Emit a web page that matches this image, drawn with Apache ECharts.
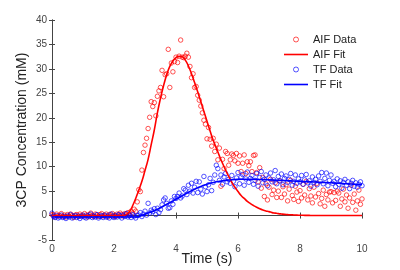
<!DOCTYPE html>
<html>
<head>
<meta charset="utf-8">
<script src="https://cdn.jsdelivr.net/npm/echarts@6/dist/echarts.min.js"></script>
<style>
  html, body { margin: 0; padding: 0; background: #fff; }
  #main { width: 400px; height: 270px; }
</style>
</head>
<body>
<div id="main"></div>
<script>
// sample step of the measured data (s) and of the fitted curves (s)
const dataStep = 0.05;
const fitStep = 0.1;

// AIF measured samples, one row = 0.5 s
const aifData = [
  0.2, 0.1, -0.3, 0.3, -0.1, 0.0, 0.4, -0.2, 0.1, -0.3,
  0.2, -0.1, 0.3, 0.0, -0.4, 0.1, 0.2, -0.2, 0.3, 0.0,
  -0.1, 0.4, 0.1, -0.3, 0.2, 0.5, 0.0, -0.2, 0.3, 0.1,
  -0.2, 0.2, 0.4, -0.1, 0.0, 0.3, -0.3, 0.2, 0.1, 0.4,
  0.0, -0.2, 0.3, 0.1, 0.5, 0.2, -0.1, 0.4, 0.3, 0.6,
  0.2, 0.9, 0.5, 1.3, 0.9, 2.8, 5.3, 4.9, 9.3, 12.9,
  14.4, 15.8, 17.8, 20.1, 23.3, 22.3, 23.1, 20.4, 24.4, 25.5,
  26.2, 29.7, 24.3, 28.8, 29.0, 34.0, 26.2, 31.2, 29.4, 31.5,
  32.4, 31.3, 32.6, 35.9, 32.4, 32.3, 32.6, 33.2, 32.4, 30.5,
  28.2, 29.0, 26.2, 26.4, 24.6, 23.6, 22.4, 21.0, 19.5, 18.7,
  15.7, 18.0, 15.6, 14.2, 15.8, 13.1, 14.6, 11.4, 13.8, 6.0,
  11.5, 9.6, 13.1, 12.7, 10.3, 11.4, 12.6, 12.3, 11.2, 12.7,
  10.7, 12.2, 9.0, 10.7, 12.4, 8.6, 11.0, 10.2, 11.0, 9.0,
  12.3, 12.4, 8.8, 6.9, 9.8, 5.6, 7.8, 3.9, 6.5, 3.2,
  5.8, 7.4, 4.3, 5.2, 6.7, 3.7, 5.0, 7.1, 3.7, 5.9,
  4.4, 6.3, 3.0, 5.4, 7.2, 4.1, 3.3, 6.0, 4.8, 2.9,
  5.1, 3.6, 6.4, 4.2, 7.0, 3.2, 5.5, 4.0, 2.6, 5.8,
  3.8, 6.6, 4.5, 2.4, 3.5, 5.2, 1.9, 4.3, 3.2, 4.8,
  4.9, 2.6, 4.7, 3.1, 5.0, 4.6, 1.9, 3.4, 5.4, 2.8,
  4.2, 1.5, 3.6, 6.2, 2.7, 4.4, 1.1, 3.0, 5.2, 2.3,
  3.4
];

// TF measured samples, one row = 0.5 s
const tfData = [
  0.5, -0.2, -0.4, 0.0, -0.5, -0.3, 0.1, -0.4, -0.2, -0.6,
  -0.1, -0.3, 0.2, -0.5, -0.2, 0.0, -0.4, -0.1, -0.6, -0.2,
  0.1, -0.3, -0.5, 0.0, -0.2, 0.3, -0.4, -0.1, -0.3, 0.2,
  -0.5, -0.2, 0.0, -0.4, 0.1, -0.3, -0.1, -0.5, 0.3, -0.2,
  -0.4, 0.0, -0.3, 0.2, -0.1, -0.5, 0.1, -0.2, 0.4, -0.3,
  0.0, -0.4, 0.2, -0.1, -0.5, 0.0, 0.1, 0.6, -0.2, 0.3,
  0.9, 0.1, 2.5, 0.5, 1.1, 0.8, 1.4, 0.2, 1.5, 0.6,
  1.2, 2.2, 3.2, 3.6, 2.5, 1.5, 1.6, 3.0, 2.3, 3.9,
  3.5, 3.9, 4.6, 3.6, 4.0, 5.5, 5.2, 4.3, 6.2, 5.0,
  6.6, 4.6, 5.8, 7.0, 4.7, 6.9, 5.4, 4.4, 8.0, 5.9,
  4.9, 6.3, 7.6, 5.1, 6.8, 8.3, 10.3, 9.6, 7.2, 8.3,
  6.4, 7.9, 8.6, 6.9, 7.4, 6.6, 8.2, 7.0, 5.9, 7.7,
  8.8, 6.5, 7.9, 8.4, 6.2, 7.5, 8.9, 6.8, 7.6, 8.2,
  6.4, 7.2, 8.6, 6.0, 7.8, 9.0, 6.7, 7.4, 8.3, 6.1,
  7.7, 8.7, 6.9, 7.3, 9.2, 6.5, 8.0, 7.1, 8.5, 6.3,
  7.6, 8.1, 6.8, 7.4, 8.6, 6.2, 7.0, 8.3, 6.6, 7.5,
  6.9, 8.2, 6.4, 7.3, 8.4, 6.7, 7.1, 6.0, 7.9, 6.8,
  7.4, 6.3, 8.1, 7.0, 8.8, 6.5, 7.6, 8.7, 6.1, 7.2,
  8.3, 6.6, 7.0, 5.9, 7.5, 6.4, 7.1, 5.6, 6.8, 7.4,
  6.2, 6.9, 5.5, 6.6, 7.2, 6.0, 6.7, 5.8, 6.4, 6.9,
  6.1
];

// fitted curves, one row = 1 s
const aifFit = [
  0, 0, 0, 0, 0, 0, 0, 0, 0, 0,
  0, 0, 0, 0, 0, 0, 0, 0, 0, 0,
  0, 0, 0, 0, 0.2, 0.8, 2.0, 3.5, 5.2, 7.0,
  9.2, 11.5, 14.5, 17.5, 21.0, 24.0, 26.6, 28.8, 30.5, 31.6,
  32.3, 32.6, 32.5, 31.8, 30.6, 29.0, 27.2, 25.3, 23.3, 21.3,
  19.3, 17.3, 15.4, 13.8, 12.2, 10.7, 9.3, 8.0, 6.8, 5.8,
  4.9, 4.1, 3.5, 2.9, 2.45, 2.05, 1.7, 1.4, 1.15, 0.95,
  0.8, 0.6, 0.5, 0.4, 0.32, 0.25, 0.2, 0.15, 0.12, 0.09,
  0.07, 0.05, 0.04, 0.03, 0.02, 0.02, 0.01, 0, 0, 0,
  0, 0, 0, 0, 0, 0, 0, 0, 0, 0,
  0
];

const tfFit = [
  -0.3, -0.3, -0.3, -0.3, -0.3, -0.3, -0.3, -0.3, -0.3, -0.3,
  -0.3, -0.3, -0.3, -0.3, -0.3, -0.3, -0.3, -0.3, -0.3, -0.3,
  -0.3, -0.3, -0.3, -0.3, -0.3, -0.3, -0.3, -0.3, -0.2, 0.0,
  0.25, 0.5, 0.75, 1.0, 1.3, 1.6, 1.95, 2.3, 2.65, 3.0,
  3.35, 3.7, 4.05, 4.4, 4.75, 5.1, 5.4, 5.7, 5.95, 6.2,
  6.4, 6.6, 6.75, 6.9, 7.0, 7.1, 7.2, 7.27, 7.33, 7.38,
  7.41, 7.43, 7.44, 7.44, 7.43, 7.42, 7.4, 7.38, 7.36, 7.33,
  7.3, 7.27, 7.24, 7.21, 7.18, 7.15, 7.12, 7.09, 7.06, 7.03,
  7.0, 6.97, 6.94, 6.91, 6.88, 6.85, 6.82, 6.79, 6.76, 6.73,
  6.7, 6.66, 6.62, 6.58, 6.54, 6.5, 6.46, 6.42, 6.38, 6.34,
  6.3
];

const xTicks = [0, 10, 2];   // min, max, interval
const yTicks = [-5, 40, 5];

function withTime(values, step) {
  return values.map((v, i) => [Math.round(i * step * 100) / 100, v]);
}

var chartDom = document.getElementById("main");
var myChart = echarts.init(chartDom);
var option;

var font = "'Liberation Sans', Arial, Helvetica, sans-serif";
var axisColor = "#444";
var red = "#ff0000";
var blue = "#0000ff";
var lineIcon = "path://M0,0 L24,0 L24,1.6 L0,1.6 Z";

function boxAxis(extra) {
  return Object.assign({
    type: "value",
    splitLine: { show: false },
    axisLine: { show: true, lineStyle: { color: axisColor, width: 1 } },
    axisTick: { show: true, inside: true, length: 3, lineStyle: { color: axisColor } },
  }, extra);
}

function dataSeries(name, color, values) {
  return {
    name: name,
    type: "scatter",
    symbol: "circle",
    symbolSize: 4.5,
    itemStyle: { color: "rgba(255,255,255,0)", borderColor: color, borderWidth: 0.8, opacity: 0.85 },
    data: withTime(values, dataStep),
    z: 2,
  };
}

function fitSeries(name, color, values) {
  return {
    name: name,
    type: "line",
    symbol: "none",
    smooth: true,
    lineStyle: { color: color, width: 1.6 },
    itemStyle: { color: color },
    data: withTime(values, fitStep),
    z: 3,
  };
}

option = {
  animation: false,
  textStyle: { fontFamily: font },
  grid: { left: 52, right: 38, top: 20, bottom: 30, outerBoundsMode: "none" },
  legend: {
    orient: "vertical",
    left: 279,
    top: 29,
    itemWidth: 24,
    itemHeight: 5,
    itemGap: 4,
    textStyle: { fontSize: 11, color: "#222", fontFamily: font },
    data: [
      { name: "AIF Data", icon: "circle", itemStyle: { color: "#fff", borderColor: red, borderWidth: 0.8 } },
      { name: "AIF Fit", icon: lineIcon, itemStyle: { color: red } },
      { name: "TF Data", icon: "circle", itemStyle: { color: "#fff", borderColor: blue, borderWidth: 0.8 } },
      { name: "TF Fit", icon: lineIcon, itemStyle: { color: blue } },
    ],
  },
  xAxis: [
    boxAxis({
      min: xTicks[0], max: xTicks[1], interval: xTicks[2],
      name: "Time (s)",
      nameLocation: "middle",
      nameGap: 12,
      nameMoveOverlap: false,
      nameTextStyle: { fontSize: 14, color: "#222", verticalAlign: "top" },
      axisLabel: { fontSize: 10, color: "#444", margin: 4 },
    }),
    boxAxis({
      position: "top",
      min: xTicks[0], max: xTicks[1], interval: xTicks[2],
      axisLabel: { show: false },
    }),
  ],
  yAxis: [
    boxAxis({
      min: yTicks[0], max: yTicks[1], interval: yTicks[2],
      name: "3CP Concentration (mM)",
      nameLocation: "middle",
      nameGap: 23,
      nameMoveOverlap: false,
      nameTextStyle: { fontSize: 14, color: "#222" },
      axisLabel: { fontSize: 10, color: "#444", margin: 5 },
    }),
    boxAxis({
      position: "right",
      min: yTicks[0], max: yTicks[1], interval: yTicks[2],
      axisLabel: { show: false },
    }),
  ],
  series: [
    dataSeries("AIF Data", red, aifData),
    fitSeries("AIF Fit", red, aifFit),
    dataSeries("TF Data", blue, tfData),
    fitSeries("TF Fit", blue, tfFit),
  ],
};

option && myChart.setOption(option);
</script>
</body>
</html>
